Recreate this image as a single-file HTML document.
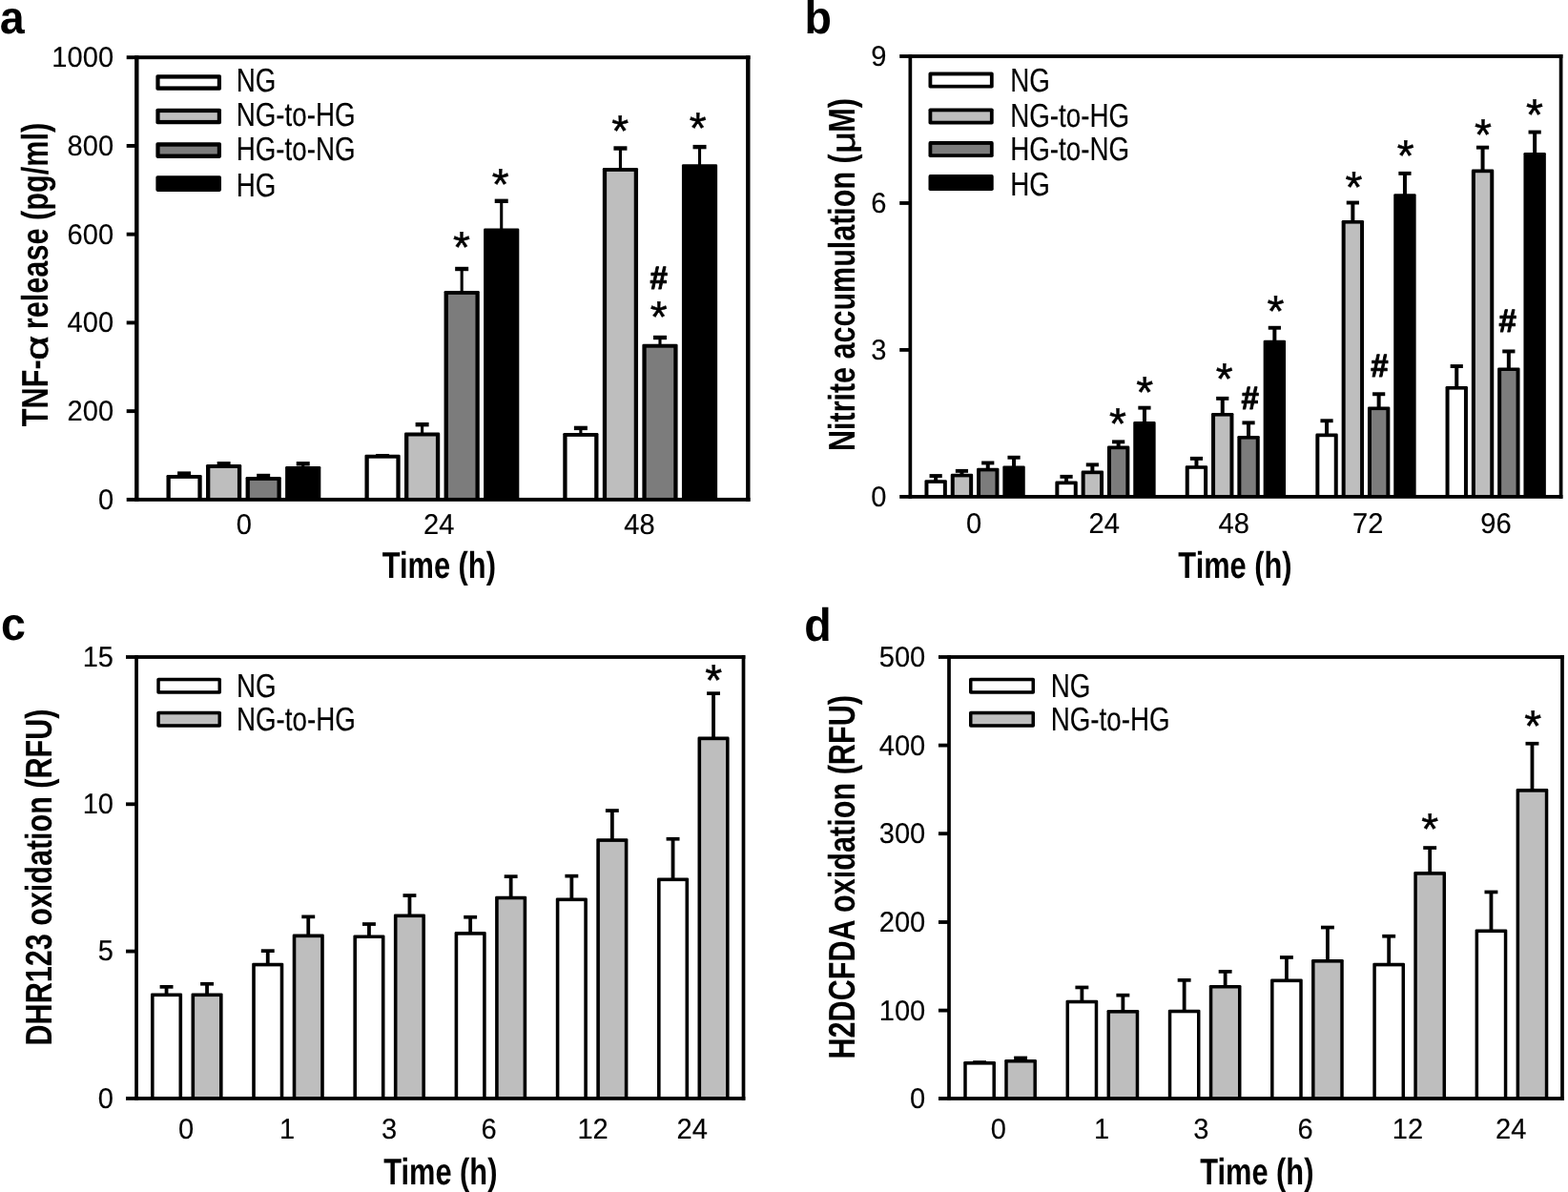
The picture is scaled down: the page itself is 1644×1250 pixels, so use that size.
<!DOCTYPE html>
<html lang="en">
<head>
<meta charset="utf-8">
<title>Figure: TNF-α release, nitrite accumulation, DHR123 and H2DCFDA oxidation</title>
<style>
html,body{margin:0;padding:0;background:#fff;overflow:hidden}
svg{display:block;font-family:"Liberation Sans",Arial,Helvetica,sans-serif;fill:#000;text-rendering:geometricPrecision}
</style>
</head>
<body>
<svg width="1644" height="1250" viewBox="0 0 1644 1250">
<rect x="0" y="0" width="1644" height="1250" fill="#fff"/>
<g id="panel-a">
<rect x="191.53" y="495.4" width="3.1" height="4.6"/>
<rect x="186.08" y="494.4" width="14" height="4.4"/>
<rect x="174.48" y="498" width="37.2" height="25.9" rx="1.3"/>
<rect x="178.78" y="501.9" width="28.6" height="22" fill="#fff"/>
<rect x="233.08" y="485.1" width="3.1" height="3.9"/>
<rect x="227.63" y="484.1" width="14" height="4.4"/>
<rect x="216.03" y="487" width="37.2" height="36.9" rx="1.3"/>
<rect x="220.33" y="490.9" width="28.6" height="33" fill="#bebebe"/>
<rect x="274.63" y="497.8" width="3.1" height="4.2"/>
<rect x="269.18" y="496.8" width="14" height="4.4"/>
<rect x="257.58" y="500" width="37.2" height="23.9" rx="1.3"/>
<rect x="261.88" y="503.9" width="28.6" height="20" fill="#7c7c7c"/>
<rect x="316.18" y="485.1" width="3.1" height="5.9"/>
<rect x="310.73" y="484.1" width="14" height="4.4"/>
<rect x="299.12" y="489" width="37.2" height="34.9" rx="1.3"/>
<rect x="399.52" y="477" width="3.1" height="1.8"/>
<rect x="394.07" y="476" width="14" height="4.4"/>
<rect x="382.47" y="476.8" width="37.2" height="47.1" rx="1.3"/>
<rect x="386.77" y="480.7" width="28.6" height="43.2" fill="#fff"/>
<rect x="441.07" y="444" width="3.1" height="11.6"/>
<rect x="435.62" y="443" width="14" height="4.4"/>
<rect x="424.02" y="453.6" width="37.2" height="70.3" rx="1.3"/>
<rect x="428.32" y="457.5" width="28.6" height="66.4" fill="#bebebe"/>
<rect x="482.62" y="280.8" width="3.1" height="26.2"/>
<rect x="477.17" y="279.8" width="14" height="4.4"/>
<rect x="465.57" y="305" width="37.2" height="218.9" rx="1.3"/>
<rect x="469.87" y="308.9" width="28.6" height="215" fill="#7c7c7c"/>
<rect x="524.17" y="209.6" width="3.1" height="31.9"/>
<rect x="518.72" y="208.6" width="14" height="4.4"/>
<rect x="507.12" y="239.5" width="37.2" height="284.4" rx="1.3"/>
<rect x="607.33" y="447.7" width="3.1" height="8.3"/>
<rect x="601.88" y="446.7" width="14" height="4.4"/>
<rect x="590.28" y="454" width="37.2" height="69.9" rx="1.3"/>
<rect x="594.58" y="457.9" width="28.6" height="66" fill="#fff"/>
<rect x="648.88" y="154.3" width="3.1" height="23.7"/>
<rect x="643.43" y="153.3" width="14" height="4.4"/>
<rect x="631.83" y="176" width="37.2" height="347.9" rx="1.3"/>
<rect x="636.12" y="179.9" width="28.6" height="344" fill="#bebebe"/>
<rect x="690.43" y="352.8" width="3.1" height="10"/>
<rect x="684.98" y="351.8" width="14" height="4.4"/>
<rect x="673.38" y="360.8" width="37.2" height="163.1" rx="1.3"/>
<rect x="677.68" y="364.7" width="28.6" height="159.2" fill="#7c7c7c"/>
<rect x="731.98" y="152.9" width="3.1" height="21.4"/>
<rect x="726.53" y="151.9" width="14" height="4.4"/>
<rect x="714.93" y="172.3" width="37.2" height="351.6" rx="1.3"/>
<rect x="132.7" y="58.25" width="653.8" height="3.9"/>
<rect x="132.7" y="521.95" width="653.8" height="3.9"/>
<rect x="141.1" y="58.25" width="4.4" height="467.6"/>
<rect x="782.1" y="58.25" width="4.4" height="467.6"/>
<rect x="132.7" y="150.99" width="10.6" height="3.9"/>
<rect x="132.7" y="243.73" width="10.6" height="3.9"/>
<rect x="132.7" y="336.47" width="10.6" height="3.9"/>
<rect x="132.7" y="429.21" width="10.6" height="3.9"/>
<text transform="translate(119.1 70.2) scale(0.9700 1)" font-size="30" font-weight="normal" text-anchor="end" stroke="#000" stroke-width="0.15">1000</text>
<text transform="translate(119.1 162.94) scale(0.9700 1)" font-size="30" font-weight="normal" text-anchor="end" stroke="#000" stroke-width="0.15">800</text>
<text transform="translate(119.1 255.68) scale(0.9700 1)" font-size="30" font-weight="normal" text-anchor="end" stroke="#000" stroke-width="0.15">600</text>
<text transform="translate(119.1 348.42) scale(0.9700 1)" font-size="30" font-weight="normal" text-anchor="end" stroke="#000" stroke-width="0.15">400</text>
<text transform="translate(119.1 441.16) scale(0.9700 1)" font-size="30" font-weight="normal" text-anchor="end" stroke="#000" stroke-width="0.15">200</text>
<text transform="translate(119.1 533.9) scale(0.9700 1)" font-size="30" font-weight="normal" text-anchor="end" stroke="#000" stroke-width="0.15">0</text>
<text transform="translate(255.8 559.6) scale(0.9700 1)" font-size="30" font-weight="normal" text-anchor="middle" stroke="#000" stroke-width="0.15">0</text>
<text transform="translate(460.2 559.6) scale(0.9700 1)" font-size="30" font-weight="normal" text-anchor="middle" stroke="#000" stroke-width="0.15">24</text>
<text transform="translate(670.4 559.6) scale(0.9700 1)" font-size="30" font-weight="normal" text-anchor="middle" stroke="#000" stroke-width="0.15">48</text>
<text transform="translate(460.3 606.3) scale(0.7900 1)" font-size="39" font-weight="bold" text-anchor="middle">Time (h)</text>
<text transform="translate(50 447.15) rotate(-90) scale(0.7870 1)" font-size="39" font-weight="bold" text-anchor="start">TNF-</text>
<text transform="translate(50 364.9) rotate(-90) scale(1.3300 1)" font-size="33.5" font-weight="normal" text-anchor="middle" stroke="#000" stroke-width="0.7">α</text>
<text transform="translate(50 345.2) rotate(-90) scale(0.7860 1)" font-size="39" font-weight="bold" text-anchor="start">release (pg/ml)</text>
<text transform="translate(-0.3 35.4) scale(0.9600 1)" font-size="48.5" font-weight="bold" text-anchor="start">a</text>
<rect x="163.4" y="78.2" width="68.6" height="16.6" rx="1.8"/>
<rect x="167.6" y="82.6" width="60.2" height="7.8" fill="#fff"/>
<text transform="translate(247.7 96.4) scale(0.7980 1)" font-size="34.8" font-weight="normal" text-anchor="start" stroke="#000" stroke-width="0.15">NG</text>
<rect x="163.4" y="113.7" width="68.6" height="16.6" rx="1.8"/>
<rect x="167.6" y="118.1" width="60.2" height="7.8" fill="#bebebe"/>
<text transform="translate(247.7 132.1) scale(0.7980 1)" font-size="34.8" font-weight="normal" text-anchor="start" stroke="#000" stroke-width="0.15">NG-to-HG</text>
<rect x="163.4" y="149.3" width="68.6" height="16.6" rx="1.8"/>
<rect x="167.6" y="153.7" width="60.2" height="7.8" fill="#7c7c7c"/>
<text transform="translate(247.7 167.8) scale(0.7980 1)" font-size="34.8" font-weight="normal" text-anchor="start" stroke="#000" stroke-width="0.15">HG-to-NG</text>
<rect x="163.4" y="184.3" width="68.6" height="16.6" rx="1.8"/>
<text transform="translate(247.7 205.8) scale(0.7980 1)" font-size="34.8" font-weight="normal" text-anchor="start" stroke="#000" stroke-width="0.15">HG</text>
<text transform="translate(483.9 275.1)" font-size="46" font-weight="normal" text-anchor="middle" stroke="#000" stroke-width="0.5">*</text>
<text transform="translate(524.7 208.9)" font-size="46" font-weight="normal" text-anchor="middle" stroke="#000" stroke-width="0.5">*</text>
<text transform="translate(650.3 153.3)" font-size="46" font-weight="normal" text-anchor="middle" stroke="#000" stroke-width="0.5">*</text>
<text transform="translate(731.8 150.3)" font-size="46" font-weight="normal" text-anchor="middle" stroke="#000" stroke-width="0.5">*</text>
<text transform="translate(690.7 348.2)" font-size="46" font-weight="normal" text-anchor="middle" stroke="#000" stroke-width="0.5">*</text>
<text transform="translate(690.6 303) scale(0.9700 1)" font-size="34" font-weight="bold" text-anchor="middle" stroke="#000" stroke-width="1" stroke-linejoin="round">#</text>
</g>
<g id="panel-b">
<rect x="979.15" y="498.1" width="4" height="7.2"/>
<rect x="974.55" y="497.1" width="13.2" height="3.9"/>
<rect x="969.45" y="503.3" width="23.4" height="17.6" rx="1.3"/>
<rect x="973.45" y="506.9" width="15.4" height="14" fill="#fff"/>
<rect x="1006.45" y="492.9" width="4" height="5.9"/>
<rect x="1001.85" y="491.9" width="13.2" height="3.9"/>
<rect x="996.75" y="496.8" width="23.4" height="24.1" rx="1.3"/>
<rect x="1000.75" y="500.4" width="15.4" height="20.5" fill="#bebebe"/>
<rect x="1033.75" y="484.5" width="4" height="8.3"/>
<rect x="1029.15" y="483.5" width="13.2" height="3.9"/>
<rect x="1024.05" y="490.8" width="23.4" height="30.1" rx="1.3"/>
<rect x="1028.05" y="494.4" width="15.4" height="26.5" fill="#7c7c7c"/>
<rect x="1061.05" y="478.8" width="4" height="11.6"/>
<rect x="1056.45" y="477.8" width="13.2" height="3.9"/>
<rect x="1051.35" y="488.4" width="23.4" height="32.5" rx="1.3"/>
<rect x="1116.05" y="498.9" width="4" height="7.7"/>
<rect x="1111.45" y="497.9" width="13.2" height="3.9"/>
<rect x="1106.35" y="504.6" width="23.4" height="16.3" rx="1.3"/>
<rect x="1110.35" y="508.2" width="15.4" height="12.7" fill="#fff"/>
<rect x="1143.35" y="486.4" width="4" height="9.2"/>
<rect x="1138.75" y="485.4" width="13.2" height="3.9"/>
<rect x="1133.65" y="493.6" width="23.4" height="27.3" rx="1.3"/>
<rect x="1137.65" y="497.2" width="15.4" height="23.7" fill="#bebebe"/>
<rect x="1170.65" y="462.4" width="4" height="7.2"/>
<rect x="1166.05" y="461.4" width="13.2" height="3.9"/>
<rect x="1160.95" y="467.6" width="23.4" height="53.3" rx="1.3"/>
<rect x="1164.95" y="471.2" width="15.4" height="49.7" fill="#7c7c7c"/>
<rect x="1197.95" y="426.7" width="4" height="17.4"/>
<rect x="1193.35" y="425.7" width="13.2" height="3.9"/>
<rect x="1188.25" y="442.1" width="23.4" height="78.8" rx="1.3"/>
<rect x="1252.45" y="479.9" width="4" height="10.3"/>
<rect x="1247.85" y="478.9" width="13.2" height="3.9"/>
<rect x="1242.75" y="488.2" width="23.4" height="32.7" rx="1.3"/>
<rect x="1246.75" y="491.8" width="15.4" height="29.1" fill="#fff"/>
<rect x="1279.75" y="416.9" width="4" height="18.1"/>
<rect x="1275.15" y="415.9" width="13.2" height="3.9"/>
<rect x="1270.05" y="433" width="23.4" height="87.9" rx="1.3"/>
<rect x="1274.05" y="436.6" width="15.4" height="84.3" fill="#bebebe"/>
<rect x="1307.05" y="442.4" width="4" height="16.6"/>
<rect x="1302.45" y="441.4" width="13.2" height="3.9"/>
<rect x="1297.35" y="457" width="23.4" height="63.9" rx="1.3"/>
<rect x="1301.35" y="460.6" width="15.4" height="60.3" fill="#7c7c7c"/>
<rect x="1334.35" y="342.8" width="4" height="16"/>
<rect x="1329.75" y="341.8" width="13.2" height="3.9"/>
<rect x="1324.65" y="356.8" width="23.4" height="164.1" rx="1.3"/>
<rect x="1389.05" y="440.3" width="4" height="16.3"/>
<rect x="1384.45" y="439.3" width="13.2" height="3.9"/>
<rect x="1379.35" y="454.6" width="23.4" height="66.3" rx="1.3"/>
<rect x="1383.35" y="458.2" width="15.4" height="62.7" fill="#fff"/>
<rect x="1416.35" y="211.6" width="4" height="21.4"/>
<rect x="1411.75" y="210.6" width="13.2" height="3.9"/>
<rect x="1406.65" y="231" width="23.4" height="289.9" rx="1.3"/>
<rect x="1410.65" y="234.6" width="15.4" height="286.3" fill="#bebebe"/>
<rect x="1443.65" y="412.3" width="4" height="16.2"/>
<rect x="1439.05" y="411.3" width="13.2" height="3.9"/>
<rect x="1433.95" y="426.5" width="23.4" height="94.4" rx="1.3"/>
<rect x="1437.95" y="430.1" width="15.4" height="90.8" fill="#7c7c7c"/>
<rect x="1470.95" y="180.9" width="4" height="24.4"/>
<rect x="1466.35" y="179.9" width="13.2" height="3.9"/>
<rect x="1461.25" y="203.3" width="23.4" height="317.6" rx="1.3"/>
<rect x="1525.25" y="383.1" width="4" height="23.9"/>
<rect x="1520.65" y="382.1" width="13.2" height="3.9"/>
<rect x="1515.55" y="405" width="23.4" height="115.9" rx="1.3"/>
<rect x="1519.55" y="408.6" width="15.4" height="112.3" fill="#fff"/>
<rect x="1552.55" y="153.7" width="4" height="25.9"/>
<rect x="1547.95" y="152.7" width="13.2" height="3.9"/>
<rect x="1542.85" y="177.6" width="23.4" height="343.3" rx="1.3"/>
<rect x="1546.85" y="181.2" width="15.4" height="339.7" fill="#bebebe"/>
<rect x="1579.85" y="367.5" width="4" height="19.9"/>
<rect x="1575.25" y="366.5" width="13.2" height="3.9"/>
<rect x="1570.15" y="385.4" width="23.4" height="135.5" rx="1.3"/>
<rect x="1574.15" y="389" width="15.4" height="131.9" fill="#7c7c7c"/>
<rect x="1607.15" y="137.6" width="4" height="24.4"/>
<rect x="1602.55" y="136.6" width="13.2" height="3.9"/>
<rect x="1597.45" y="160" width="23.4" height="360.9" rx="1.3"/>
<rect x="943.2" y="57.1" width="695.25" height="3.8"/>
<rect x="943.2" y="519" width="695.25" height="3.8"/>
<rect x="952.5" y="57.1" width="3.7" height="465.7"/>
<rect x="1634.75" y="57.1" width="3.7" height="465.7"/>
<rect x="943.2" y="211.07" width="11.15" height="3.8"/>
<rect x="943.2" y="365.03" width="11.15" height="3.8"/>
<text transform="translate(929.5 69) scale(0.9700 1)" font-size="30" font-weight="normal" text-anchor="end" stroke="#000" stroke-width="0.15">9</text>
<text transform="translate(929.5 222.97) scale(0.9700 1)" font-size="30" font-weight="normal" text-anchor="end" stroke="#000" stroke-width="0.15">6</text>
<text transform="translate(929.5 376.93) scale(0.9700 1)" font-size="30" font-weight="normal" text-anchor="end" stroke="#000" stroke-width="0.15">3</text>
<text transform="translate(929.5 530.9) scale(0.9700 1)" font-size="30" font-weight="normal" text-anchor="end" stroke="#000" stroke-width="0.15">0</text>
<text transform="translate(1021.2 559) scale(0.9700 1)" font-size="30" font-weight="normal" text-anchor="middle" stroke="#000" stroke-width="0.15">0</text>
<text transform="translate(1157.7 559) scale(0.9700 1)" font-size="30" font-weight="normal" text-anchor="middle" stroke="#000" stroke-width="0.15">24</text>
<text transform="translate(1293.8 559) scale(0.9700 1)" font-size="30" font-weight="normal" text-anchor="middle" stroke="#000" stroke-width="0.15">48</text>
<text transform="translate(1434.2 559) scale(0.9700 1)" font-size="30" font-weight="normal" text-anchor="middle" stroke="#000" stroke-width="0.15">72</text>
<text transform="translate(1568.4 559) scale(0.9700 1)" font-size="30" font-weight="normal" text-anchor="middle" stroke="#000" stroke-width="0.15">96</text>
<text transform="translate(1295 606.4) scale(0.7900 1)" font-size="39" font-weight="bold" text-anchor="middle">Time (h)</text>
<text transform="translate(896.3 473) rotate(-90) scale(0.7817 1)" font-size="39" font-weight="bold" text-anchor="start">Nitrite accumulation (</text>
<text transform="translate(896.3 149.3) rotate(-90) scale(1.1300 1)" font-size="35" font-weight="normal" text-anchor="middle" stroke="#000" stroke-width="0.6">μ</text>
<text transform="translate(896.3 103) rotate(-90) scale(0.7870 1)" font-size="39" font-weight="bold" text-anchor="end">M)</text>
<text transform="translate(843.5 35) scale(0.9600 1)" font-size="48.5" font-weight="bold" text-anchor="start">b</text>
<rect x="973.5" y="75.6" width="68.2" height="17" rx="1.8"/>
<rect x="977.3" y="79.4" width="60.6" height="9.4" fill="#fff"/>
<text transform="translate(1059.2 96.2) scale(0.7980 1)" font-size="34.8" font-weight="normal" text-anchor="start" stroke="#000" stroke-width="0.15">NG</text>
<rect x="973.5" y="113.5" width="68.2" height="17" rx="1.8"/>
<rect x="977.3" y="117.3" width="60.6" height="9.4" fill="#bebebe"/>
<text transform="translate(1059.2 132.6) scale(0.7980 1)" font-size="34.8" font-weight="normal" text-anchor="start" stroke="#000" stroke-width="0.15">NG-to-HG</text>
<rect x="973.5" y="148.1" width="68.2" height="17" rx="1.8"/>
<rect x="977.3" y="151.9" width="60.6" height="9.4" fill="#7c7c7c"/>
<text transform="translate(1059.2 167.9) scale(0.7980 1)" font-size="34.8" font-weight="normal" text-anchor="start" stroke="#000" stroke-width="0.15">HG-to-NG</text>
<rect x="973.5" y="183.1" width="68.2" height="17" rx="1.8"/>
<text transform="translate(1059.2 204.5) scale(0.7980 1)" font-size="34.8" font-weight="normal" text-anchor="start" stroke="#000" stroke-width="0.15">HG</text>
<text transform="translate(1172 460.1)" font-size="46" font-weight="normal" text-anchor="middle" stroke="#000" stroke-width="0.5">*</text>
<text transform="translate(1200.3 427)" font-size="46" font-weight="normal" text-anchor="middle" stroke="#000" stroke-width="0.5">*</text>
<text transform="translate(1283.8 412.9)" font-size="46" font-weight="normal" text-anchor="middle" stroke="#000" stroke-width="0.5">*</text>
<text transform="translate(1337.4 342.3)" font-size="46" font-weight="normal" text-anchor="middle" stroke="#000" stroke-width="0.5">*</text>
<text transform="translate(1419.4 212.2)" font-size="46" font-weight="normal" text-anchor="middle" stroke="#000" stroke-width="0.5">*</text>
<text transform="translate(1473.8 179.4)" font-size="46" font-weight="normal" text-anchor="middle" stroke="#000" stroke-width="0.5">*</text>
<text transform="translate(1554.9 157.3)" font-size="46" font-weight="normal" text-anchor="middle" stroke="#000" stroke-width="0.5">*</text>
<text transform="translate(1609 136.1)" font-size="46" font-weight="normal" text-anchor="middle" stroke="#000" stroke-width="0.5">*</text>
<text transform="translate(1310.6 429) scale(0.9700 1)" font-size="34" font-weight="bold" text-anchor="middle" stroke="#000" stroke-width="1" stroke-linejoin="round">#</text>
<text transform="translate(1446.4 394.9) scale(0.9700 1)" font-size="34" font-weight="bold" text-anchor="middle" stroke="#000" stroke-width="1" stroke-linejoin="round">#</text>
<text transform="translate(1580.7 348.1) scale(0.9700 1)" font-size="34" font-weight="bold" text-anchor="middle" stroke="#000" stroke-width="1" stroke-linejoin="round">#</text>
</g>
<g id="panel-c">
<rect x="172.65" y="1034" width="3.8" height="9.5"/>
<rect x="167.6" y="1033" width="13.9" height="3.7"/>
<rect x="158" y="1041.5" width="33.1" height="110.4" rx="1.3"/>
<rect x="161.6" y="1045.1" width="25.9" height="106.8" fill="#fff"/>
<rect x="215.15" y="1030.9" width="3.8" height="12.6"/>
<rect x="210.1" y="1029.9" width="13.9" height="3.7"/>
<rect x="200.5" y="1041.5" width="33.1" height="110.4" rx="1.3"/>
<rect x="204.1" y="1045.1" width="25.9" height="106.8" fill="#bebebe"/>
<rect x="278.85" y="996.3" width="3.8" height="15.5"/>
<rect x="273.8" y="995.3" width="13.9" height="3.7"/>
<rect x="264.2" y="1009.8" width="33.1" height="142.1" rx="1.3"/>
<rect x="267.8" y="1013.4" width="25.9" height="138.5" fill="#fff"/>
<rect x="321.35" y="960.5" width="3.8" height="21.1"/>
<rect x="316.3" y="959.5" width="13.9" height="3.7"/>
<rect x="306.7" y="979.6" width="33.1" height="172.3" rx="1.3"/>
<rect x="310.3" y="983.2" width="25.9" height="168.7" fill="#bebebe"/>
<rect x="385.05" y="968.2" width="3.8" height="14.2"/>
<rect x="380" y="967.2" width="13.9" height="3.7"/>
<rect x="370.4" y="980.4" width="33.1" height="171.5" rx="1.3"/>
<rect x="374" y="984" width="25.9" height="167.9" fill="#fff"/>
<rect x="427.55" y="938.2" width="3.8" height="22.3"/>
<rect x="422.5" y="937.2" width="13.9" height="3.7"/>
<rect x="412.9" y="958.5" width="33.1" height="193.4" rx="1.3"/>
<rect x="416.5" y="962.1" width="25.9" height="189.8" fill="#bebebe"/>
<rect x="491.25" y="960.9" width="3.8" height="18.2"/>
<rect x="486.2" y="959.9" width="13.9" height="3.7"/>
<rect x="476.6" y="977.1" width="33.1" height="174.8" rx="1.3"/>
<rect x="480.2" y="980.7" width="25.9" height="171.2" fill="#fff"/>
<rect x="533.75" y="918.3" width="3.8" height="23.4"/>
<rect x="528.7" y="917.3" width="13.9" height="3.7"/>
<rect x="519.1" y="939.7" width="33.1" height="212.2" rx="1.3"/>
<rect x="522.7" y="943.3" width="25.9" height="208.6" fill="#bebebe"/>
<rect x="597.45" y="917.8" width="3.8" height="25.7"/>
<rect x="592.4" y="916.8" width="13.9" height="3.7"/>
<rect x="582.8" y="941.5" width="33.1" height="210.4" rx="1.3"/>
<rect x="586.4" y="945.1" width="25.9" height="206.8" fill="#fff"/>
<rect x="639.95" y="849.2" width="3.8" height="32.1"/>
<rect x="634.9" y="848.2" width="13.9" height="3.7"/>
<rect x="625.3" y="879.3" width="33.1" height="272.6" rx="1.3"/>
<rect x="628.9" y="882.9" width="25.9" height="269" fill="#bebebe"/>
<rect x="703.65" y="878.9" width="3.8" height="43.6"/>
<rect x="698.6" y="877.9" width="13.9" height="3.7"/>
<rect x="689" y="920.5" width="33.1" height="231.4" rx="1.3"/>
<rect x="692.6" y="924.1" width="25.9" height="227.8" fill="#fff"/>
<rect x="746.15" y="726.3" width="3.8" height="48.3"/>
<rect x="741.1" y="725.3" width="13.9" height="3.7"/>
<rect x="731.5" y="772.6" width="33.1" height="379.3" rx="1.3"/>
<rect x="735.1" y="776.2" width="25.9" height="375.7" fill="#bebebe"/>
<rect x="132" y="687.1" width="649.35" height="3.8"/>
<rect x="132" y="1150" width="649.35" height="3.8"/>
<rect x="141.2" y="687.1" width="3.7" height="466.7"/>
<rect x="777.65" y="687.1" width="3.7" height="466.7"/>
<rect x="132" y="841.4" width="11.05" height="3.8"/>
<rect x="132" y="995.7" width="11.05" height="3.8"/>
<text transform="translate(119 698.6) scale(0.9700 1)" font-size="30" font-weight="normal" text-anchor="end" stroke="#000" stroke-width="0.15">15</text>
<text transform="translate(119 852.9) scale(0.9700 1)" font-size="30" font-weight="normal" text-anchor="end" stroke="#000" stroke-width="0.15">10</text>
<text transform="translate(119 1007.2) scale(0.9700 1)" font-size="30" font-weight="normal" text-anchor="end" stroke="#000" stroke-width="0.15">5</text>
<text transform="translate(119 1161.5) scale(0.9700 1)" font-size="30" font-weight="normal" text-anchor="end" stroke="#000" stroke-width="0.15">0</text>
<text transform="translate(195.2 1193.5) scale(0.9700 1)" font-size="30" font-weight="normal" text-anchor="middle" stroke="#000" stroke-width="0.15">0</text>
<text transform="translate(301 1193.5) scale(0.9700 1)" font-size="30" font-weight="normal" text-anchor="middle" stroke="#000" stroke-width="0.15">1</text>
<text transform="translate(408.2 1193.5) scale(0.9700 1)" font-size="30" font-weight="normal" text-anchor="middle" stroke="#000" stroke-width="0.15">3</text>
<text transform="translate(512.6 1193.5) scale(0.9700 1)" font-size="30" font-weight="normal" text-anchor="middle" stroke="#000" stroke-width="0.15">6</text>
<text transform="translate(621.6 1193.5) scale(0.9700 1)" font-size="30" font-weight="normal" text-anchor="middle" stroke="#000" stroke-width="0.15">12</text>
<text transform="translate(725.7 1193.5) scale(0.9700 1)" font-size="30" font-weight="normal" text-anchor="middle" stroke="#000" stroke-width="0.15">24</text>
<text transform="translate(461.8 1241.6) scale(0.7900 1)" font-size="39" font-weight="bold" text-anchor="middle">Time (h)</text>
<text transform="translate(54 920) rotate(-90) scale(0.7830 1)" font-size="39" font-weight="bold" text-anchor="middle">DHR123 oxidation (RFU)</text>
<text transform="translate(1 671.3) scale(0.9600 1)" font-size="48.5" font-weight="bold" text-anchor="start">c</text>
<rect x="164.3" y="710.8" width="67.7" height="16.9" rx="1.8"/>
<rect x="167.8" y="714.3" width="60.7" height="9.9" fill="#fff"/>
<text transform="translate(247.9 731.3) scale(0.7980 1)" font-size="34.8" font-weight="normal" text-anchor="start" stroke="#000" stroke-width="0.15">NG</text>
<rect x="164.3" y="745.8" width="67.7" height="16.9" rx="1.8"/>
<rect x="167.8" y="749.3" width="60.7" height="9.9" fill="#bebebe"/>
<text transform="translate(247.9 765.8) scale(0.7980 1)" font-size="34.8" font-weight="normal" text-anchor="start" stroke="#000" stroke-width="0.15">NG-to-HG</text>
<text transform="translate(748.3 729.4)" font-size="46" font-weight="normal" text-anchor="middle" stroke="#000" stroke-width="0.5">*</text>
</g>
<g id="panel-d">
<rect x="1025.2" y="1113.2" width="3.8" height="1.8"/>
<rect x="1020.15" y="1112.2" width="13.9" height="3.7"/>
<rect x="1010.25" y="1113" width="33.7" height="39" rx="1.3"/>
<rect x="1013.75" y="1116.6" width="26.7" height="35.4" fill="#fff"/>
<rect x="1068.2" y="1108.6" width="3.8" height="4.3"/>
<rect x="1063.15" y="1107.6" width="13.9" height="3.7"/>
<rect x="1053.25" y="1110.9" width="33.7" height="41.1" rx="1.3"/>
<rect x="1056.75" y="1114.5" width="26.7" height="37.5" fill="#bebebe"/>
<rect x="1132.47" y="1034.6" width="3.8" height="16.1"/>
<rect x="1127.42" y="1033.6" width="13.9" height="3.7"/>
<rect x="1117.52" y="1048.7" width="33.7" height="103.3" rx="1.3"/>
<rect x="1121.02" y="1052.3" width="26.7" height="99.7" fill="#fff"/>
<rect x="1175.47" y="1042.8" width="3.8" height="18.2"/>
<rect x="1170.42" y="1041.8" width="13.9" height="3.7"/>
<rect x="1160.52" y="1059" width="33.7" height="93" rx="1.3"/>
<rect x="1164.02" y="1062.6" width="26.7" height="89.4" fill="#bebebe"/>
<rect x="1239.74" y="1027" width="3.8" height="33.7"/>
<rect x="1234.69" y="1026" width="13.9" height="3.7"/>
<rect x="1224.79" y="1058.7" width="33.7" height="93.3" rx="1.3"/>
<rect x="1228.29" y="1062.3" width="26.7" height="89.7" fill="#fff"/>
<rect x="1282.74" y="1018" width="3.8" height="16.9"/>
<rect x="1277.69" y="1017" width="13.9" height="3.7"/>
<rect x="1267.79" y="1032.9" width="33.7" height="119.1" rx="1.3"/>
<rect x="1271.29" y="1036.5" width="26.7" height="115.5" fill="#bebebe"/>
<rect x="1347.01" y="1003.1" width="3.8" height="25.4"/>
<rect x="1341.96" y="1002.1" width="13.9" height="3.7"/>
<rect x="1332.06" y="1026.5" width="33.7" height="125.5" rx="1.3"/>
<rect x="1335.56" y="1030.1" width="26.7" height="121.9" fill="#fff"/>
<rect x="1390.01" y="971.7" width="3.8" height="36.3"/>
<rect x="1384.96" y="970.7" width="13.9" height="3.7"/>
<rect x="1375.06" y="1006" width="33.7" height="146" rx="1.3"/>
<rect x="1378.56" y="1009.6" width="26.7" height="142.4" fill="#bebebe"/>
<rect x="1454.28" y="980.9" width="3.8" height="30.9"/>
<rect x="1449.23" y="979.9" width="13.9" height="3.7"/>
<rect x="1439.33" y="1009.8" width="33.7" height="142.2" rx="1.3"/>
<rect x="1442.83" y="1013.4" width="26.7" height="138.6" fill="#fff"/>
<rect x="1497.28" y="888.2" width="3.8" height="27.9"/>
<rect x="1492.23" y="887.2" width="13.9" height="3.7"/>
<rect x="1482.33" y="914.1" width="33.7" height="237.9" rx="1.3"/>
<rect x="1485.83" y="917.7" width="26.7" height="234.3" fill="#bebebe"/>
<rect x="1561.55" y="934.6" width="3.8" height="41.9"/>
<rect x="1556.5" y="933.6" width="13.9" height="3.7"/>
<rect x="1546.6" y="974.5" width="33.7" height="177.5" rx="1.3"/>
<rect x="1550.1" y="978.1" width="26.7" height="173.9" fill="#fff"/>
<rect x="1604.55" y="778.9" width="3.8" height="50.2"/>
<rect x="1599.5" y="777.9" width="13.9" height="3.7"/>
<rect x="1589.6" y="827.1" width="33.7" height="324.9" rx="1.3"/>
<rect x="1593.1" y="830.7" width="26.7" height="321.3" fill="#bebebe"/>
<rect x="983.95" y="687.1" width="655.9" height="3.8"/>
<rect x="983.95" y="1150.1" width="655.9" height="3.8"/>
<rect x="993.15" y="687.1" width="3.7" height="466.8"/>
<rect x="1636.15" y="687.1" width="3.7" height="466.8"/>
<rect x="983.95" y="779.7" width="11.05" height="3.8"/>
<rect x="983.95" y="872.3" width="11.05" height="3.8"/>
<rect x="983.95" y="965.1" width="11.05" height="3.8"/>
<rect x="983.95" y="1057.7" width="11.05" height="3.8"/>
<text transform="translate(970.3 699) scale(0.9700 1)" font-size="30" font-weight="normal" text-anchor="end" stroke="#000" stroke-width="0.15">500</text>
<text transform="translate(970.3 791.6) scale(0.9700 1)" font-size="30" font-weight="normal" text-anchor="end" stroke="#000" stroke-width="0.15">400</text>
<text transform="translate(970.3 884.2) scale(0.9700 1)" font-size="30" font-weight="normal" text-anchor="end" stroke="#000" stroke-width="0.15">300</text>
<text transform="translate(970.3 977) scale(0.9700 1)" font-size="30" font-weight="normal" text-anchor="end" stroke="#000" stroke-width="0.15">200</text>
<text transform="translate(970.3 1069.6) scale(0.9700 1)" font-size="30" font-weight="normal" text-anchor="end" stroke="#000" stroke-width="0.15">100</text>
<text transform="translate(970.3 1162) scale(0.9700 1)" font-size="30" font-weight="normal" text-anchor="end" stroke="#000" stroke-width="0.15">0</text>
<text transform="translate(1046.9 1193.5) scale(0.9700 1)" font-size="30" font-weight="normal" text-anchor="middle" stroke="#000" stroke-width="0.15">0</text>
<text transform="translate(1155 1193.5) scale(0.9700 1)" font-size="30" font-weight="normal" text-anchor="middle" stroke="#000" stroke-width="0.15">1</text>
<text transform="translate(1259.4 1193.5) scale(0.9700 1)" font-size="30" font-weight="normal" text-anchor="middle" stroke="#000" stroke-width="0.15">3</text>
<text transform="translate(1368.6 1193.5) scale(0.9700 1)" font-size="30" font-weight="normal" text-anchor="middle" stroke="#000" stroke-width="0.15">6</text>
<text transform="translate(1476 1193.5) scale(0.9700 1)" font-size="30" font-weight="normal" text-anchor="middle" stroke="#000" stroke-width="0.15">12</text>
<text transform="translate(1584.2 1193.5) scale(0.9700 1)" font-size="30" font-weight="normal" text-anchor="middle" stroke="#000" stroke-width="0.15">24</text>
<text transform="translate(1317.8 1241.6) scale(0.7900 1)" font-size="39" font-weight="bold" text-anchor="middle">Time (h)</text>
<text transform="translate(896.1 919.8) rotate(-90) scale(0.7850 1)" font-size="39" font-weight="bold" text-anchor="middle">H2DCFDA oxidation (RFU)</text>
<text transform="translate(843.3 671.5) scale(0.9600 1)" font-size="48.5" font-weight="bold" text-anchor="start">d</text>
<rect x="1016" y="710.8" width="69" height="16.9" rx="1.8"/>
<rect x="1019.5" y="714.3" width="62" height="9.9" fill="#fff"/>
<text transform="translate(1101.7 731.3) scale(0.7980 1)" font-size="34.8" font-weight="normal" text-anchor="start" stroke="#000" stroke-width="0.15">NG</text>
<rect x="1016" y="745.8" width="69" height="16.9" rx="1.8"/>
<rect x="1019.5" y="749.3" width="62" height="9.9" fill="#bebebe"/>
<text transform="translate(1101.7 765.8) scale(0.7980 1)" font-size="34.8" font-weight="normal" text-anchor="start" stroke="#000" stroke-width="0.15">NG-to-HG</text>
<text transform="translate(1499.2 884.6)" font-size="46" font-weight="normal" text-anchor="middle" stroke="#000" stroke-width="0.5">*</text>
<text transform="translate(1607.2 776.7)" font-size="46" font-weight="normal" text-anchor="middle" stroke="#000" stroke-width="0.5">*</text>
</g>
</svg>
</body>
</html>
